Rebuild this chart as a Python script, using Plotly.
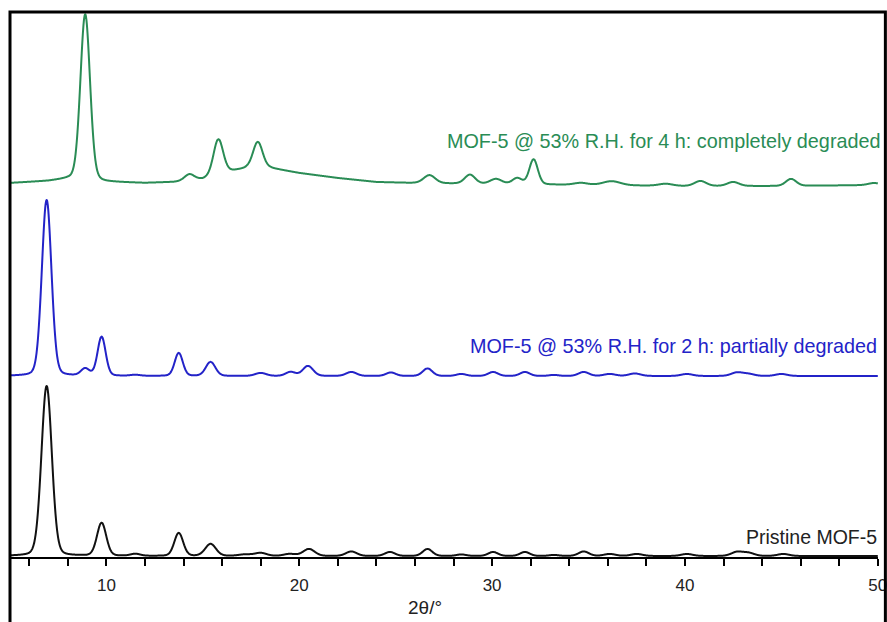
import numpy as np
import plotly.graph_objects as go

# ---- data (2theta in degrees, intensity in arbitrary units) ----
# Pristine MOF-5 (black)
pristine_pos = [6.9, 9.75, 11.5, 13.75, 15.4, 17.2, 18.0, 19.5, 20.5, 22.7, 24.7, 26.65, 28.4, 30.05, 31.7, 33.2, 34.75, 36.1, 37.5, 40.1, 42.7, 43.3, 45.1]
pristine_hgt = [170, 33, 2, 23, 12, 1.5, 3, 2, 7, 4.5, 4, 7, 1.5, 4, 4, 1, 4.5, 2, 2, 2, 4, 3, 2]
pristine_wid = [0.27, 0.24, 0.25, 0.23, 0.28, 0.35, 0.3, 0.3, 0.3, 0.28, 0.26, 0.25, 0.25, 0.25, 0.25, 0.25, 0.27, 0.3, 0.3, 0.3, 0.3, 0.3, 0.3]
pristine_offset = 1

# 2 h at 53 % R.H. (blue)
h2_pos = [6.9, 8.9, 9.75, 11.5, 13.75, 15.4, 18.0, 19.55, 20.45, 22.7, 24.75, 26.65, 28.4, 30.05, 31.7, 33.2, 34.75, 36.1, 37.4, 40.1, 42.7, 43.3, 45.0]
h2_hgt = [176, 7, 39, 1, 23, 14, 3, 4, 10, 4, 3.5, 7.5, 2, 4, 4, 1, 4, 2, 2.5, 2, 3.5, 2, 2]
h2_wid = [0.25, 0.22, 0.21, 0.25, 0.21, 0.25, 0.28, 0.25, 0.27, 0.27, 0.25, 0.25, 0.25, 0.25, 0.25, 0.25, 0.27, 0.3, 0.3, 0.3, 0.3, 0.3, 0.3]
h2_offset = 181

# 4 h at 53 % R.H. (green)
h4_pos = [8.9, 14.3, 15.8, 17.85, 26.75, 28.85, 30.2, 31.3, 32.15, 34.6, 36.2, 39.0, 40.8, 42.5, 45.5, 49.8]
h4_hgt = [166, 6, 35, 26, 8, 9, 5, 6, 25, 2, 4, 2, 5, 4, 7, 2]
h4_wid = [0.25, 0.25, 0.25, 0.25, 0.3, 0.27, 0.3, 0.25, 0.22, 0.35, 0.45, 0.35, 0.3, 0.3, 0.27, 0.3]
h4_bg_x = [5, 7, 8, 10, 12, 13.5, 15, 16.2, 17.3, 18.5, 20, 22, 24, 26, 30, 35, 40, 45, 50]
h4_bg_y = [374, 376, 378, 375, 374, 375, 378, 385, 389, 389, 384, 379, 375, 374, 373, 372, 371, 371, 372]

labels = ["Pristine MOF-5",
          "MOF-5 @ 53% R.H. for 2 h: partially degraded",
          "MOF-5 @ 53% R.H. for 4 h: completely degraded"]
x_ticks = [10, 20, 30, 40, 50]

# ---- build the profiles from the peak lists ----
tt = np.arange(5, 50.0001, 0.02)

def profile(pos, hgt, wid):
    y = np.zeros_like(tt)
    for p, h, w in zip(pos, hgt, wid):
        g = np.exp(-0.5 * ((tt - p) / w) ** 2)
        l = 1 / (1 + ((tt - p) / (1.18 * w)) ** 2)
        y += h * (0.85 * g + 0.15 * l)
    return y

y_black = profile(pristine_pos, pristine_hgt, pristine_wid) + pristine_offset
y_blue = profile(h2_pos, h2_hgt, h2_wid) + h2_offset
y_green = profile(h4_pos, h4_hgt, h4_wid) + np.interp(tt, h4_bg_x, h4_bg_y)

black_c = "#111111"
blue_c = "#2323c8"
green_c = "#2a8c55"

fig = go.Figure()
fig.add_trace(go.Scatter(x=tt, y=y_black, mode="lines", line=dict(color=black_c, width=2, shape="spline"), showlegend=False))
fig.add_trace(go.Scatter(x=tt, y=y_blue, mode="lines", line=dict(color=blue_c, width=2, shape="spline"), showlegend=False))
fig.add_trace(go.Scatter(x=tt, y=y_green, mode="lines", line=dict(color=green_c, width=2, shape="spline"), showlegend=False))

font = "Liberation Sans, Arial, sans-serif"
fig.add_annotation(x=50, y=20, xref="x", yref="y", text=labels[0], showarrow=False, xshift=1,
                   xanchor="right", yanchor="middle", font=dict(family=font, size=19.5, color="#222222"))
fig.add_annotation(x=50, y=211, xref="x", yref="y", text=labels[1], showarrow=False, xshift=1,
                   xanchor="right", yanchor="middle", font=dict(family=font, size=19.8, color=blue_c))
fig.add_annotation(x=50, y=416, xref="x", yref="y", text=labels[2], showarrow=False, xshift=4,
                   xanchor="right", yanchor="middle", font=dict(family=font, size=19.8, color=green_c))

# axis title
fig.add_annotation(x=0.478, y=-0.092, xref="paper", yref="paper", text="2θ/°", showarrow=False,
                   xanchor="center", yanchor="middle", font=dict(family=font, size=19, color="#222222"))

# picture frame
fig.add_shape(type="rect", xref="paper", yref="paper", x0=0, x1=1.0085, y0=-0.2, y1=1.0,
              line=dict(color="black", width=3), fillcolor="rgba(0,0,0,0)")

fig.update_layout(
    width=887, height=622,
    margin=dict(l=10, r=9, t=12, b=65, autoexpand=False),
    paper_bgcolor="white", plot_bgcolor="white",
    font=dict(family=font, color="#222222"),
    xaxis=dict(range=[5, 50.01], tickvals=x_ticks, ticks="outside", ticklen=7, tickwidth=2,
               tickcolor="black", showline=True, linecolor="black", linewidth=2,
               showgrid=False, zeroline=False, tickfont=dict(size=17, color="#222222"),
               ticklabelstandoff=5, ticklabeloverflow="allow", automargin=False,
               minor=dict(dtick=2, tick0=0, ticks="outside", ticklen=7, tickwidth=2, tickcolor="black", showgrid=False)),
    yaxis=dict(range=[0, 545], visible=False, showgrid=False, zeroline=False),
)

fig.write_html("out.html")
